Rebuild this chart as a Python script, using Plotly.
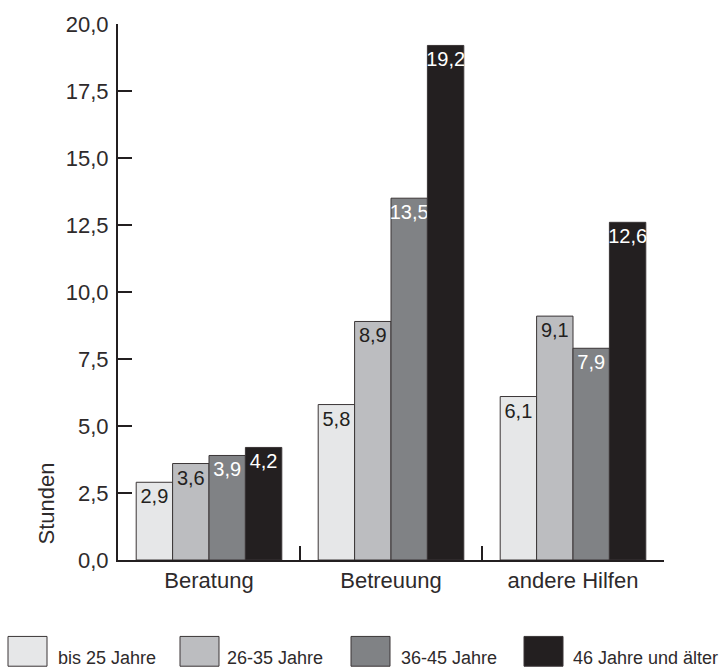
import plotly.graph_objects as go

# Categories, age groups and hours per week
categories = ["Beratung", "Betreuung", "andere Hilfen"]
groups = ["bis 25 Jahre", "26-35 Jahre", "36-45 Jahre", "46 Jahre und älter"]
values = [
    [2.9, 5.8, 6.1],
    [3.6, 8.9, 9.1],
    [3.9, 13.5, 7.9],
    [4.2, 19.2, 12.6],
]
y_ticks = [0, 2.5, 5, 7.5, 10, 12.5, 15, 17.5, 20]

fills = ["#e6e7e8", "#bcbdc0", "#808285", "#231f20"]
label_colors = ["#231f20", "#231f20", "#ffffff", "#ffffff"]
ink = "#231f20"
text_ink = "#2e2a2b"
font = "Liberation Sans, Arial, sans-serif"

W, H = 721, 668
L, R, T, B = 118, 57, 20, 108
plot_w = W - L - R
plot_h = H - T - B


def px_x(x):
    return (x - L) / plot_w


def px_y(y):
    return (H - B - y) / plot_h


fig = go.Figure()
for name, vals, fill, lc in zip(groups, values, fills, label_colors):
    fig.add_trace(go.Bar(
        name=name,
        x=categories,
        y=vals,
        marker=dict(color=fill, line=dict(color="#3a3536", width=1)),
        text=[f"{v:.1f}".replace(".", ",") for v in vals],
        textposition="inside",
        insidetextanchor="end",
        constraintext="none",
        textangle=0,
        textfont=dict(family=font, size=20, color=lc),
        showlegend=False,
    ))

# Legend drawn as boxes with labels underneath the chart
legend_box_x = [8, 180, 351, 524]
legend_text_x = [56, 225, 399, 571]
shapes = []
annotations = []
for i, name in enumerate(groups):
    x0 = legend_box_x[i]
    shapes.append(dict(
        type="rect", xref="paper", yref="paper",
        x0=px_x(x0), x1=px_x(x0 + 39),
        y0=px_y(637), y1=px_y(667),
        fillcolor=fills[i], line=dict(color="#3a3536", width=1),
    ))
    annotations.append(dict(
        text=name, xref="paper", yref="paper",
        x=px_x(legend_text_x[i]), y=px_y(659),
        xanchor="left", yanchor="middle", showarrow=False,
        font=dict(family=font, size=18, color=text_ink),
    ))

annotations.append(dict(
    text="Stunden", xref="paper", yref="paper",
    x=px_x(46), y=px_y(503), textangle=-90,
    xanchor="center", yanchor="middle", showarrow=False,
    font=dict(family=font, size=22, color=text_ink),
))

fig.update_layout(
    width=W, height=H,
    margin=dict(l=L, r=R, t=T, b=B, pad=0),
    plot_bgcolor="white", paper_bgcolor="white",
    separators=",.",
    barmode="group",
    bargap=0.2,
    bargroupgap=0,
    font=dict(family=font, color=text_ink),
    shapes=shapes,
    annotations=annotations,
    xaxis=dict(
        range=[-0.5, 2.5],
        showline=True, linecolor=ink, linewidth=2,
        ticks="inside", tickson="boundaries", ticklen=14, tickwidth=2, tickcolor=ink,
        showgrid=False, zeroline=False,
        tickfont=dict(family=font, size=22, color=text_ink),
    ),
    yaxis=dict(
        range=[0, 20],
        tickvals=y_ticks,
        tickformat=".1f",
        showline=True, linecolor=ink, linewidth=2,
        ticks="inside", ticklen=14, tickwidth=2, tickcolor=ink,
        showgrid=False, zeroline=False,
        ticklabelstandoff=3,
        tickfont=dict(family=font, size=22, color=text_ink),
    ),
)

fig.write_html("out.html")
